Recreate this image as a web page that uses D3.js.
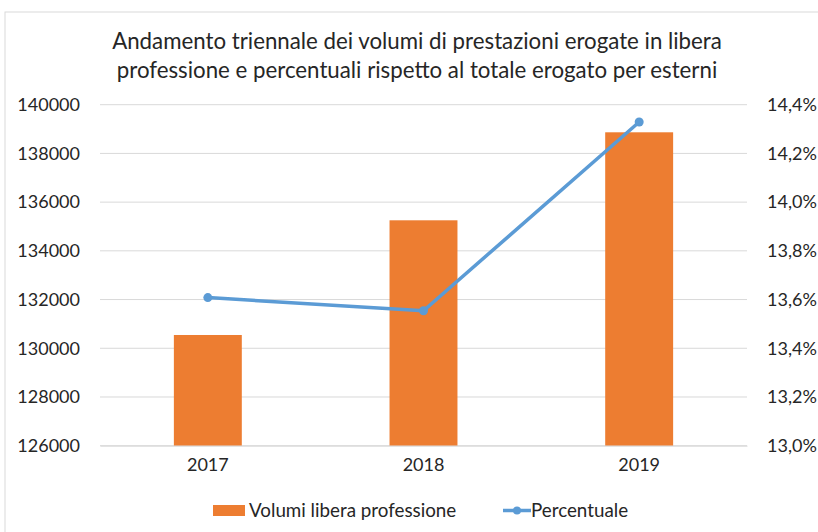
<!DOCTYPE html>
<html><head><meta charset="utf-8">
<script src="https://cdn.jsdelivr.net/npm/d3@7"></script>
<style>body{margin:0;background:#fff}svg{display:block}text{font-family:Lato,"Open Sans",sans-serif;fill:#262626}</style>
</head><body><svg id="c" width="818" height="532"></svg>
<script>
const categories = ["2017", "2018", "2019"];
const volumi = [130545, 135254, 138867];
const percentuale = [13.608, 13.554, 14.329];
const leftTicks = [126000, 128000, 130000, 132000, 134000, 136000, 138000, 140000];
const rightTicks = [13.0, 13.2, 13.4, 13.6, 13.8, 14.0, 14.2, 14.4];
const titleLines = ["Andamento triennale dei volumi di prestazioni erogate in libera",
  "professione e percentuali rispetto al totale erogato per esterni"];
const seriesNames = ["Volumi libera professione", "Percentuale"];

const svg = d3.select("#c");
const W = 818, H = 532;
const m = {l: 100, r: 71, t: 104.7, b: 86.3};
const x = d3.scaleBand().domain(categories).range([m.l, W - m.r]).paddingInner(0.685).paddingOuter(0.3425);
const y = d3.scaleLinear().domain([126000, 140000]).range([H - m.b, m.t]);
const y2 = d3.scaleLinear().domain([13.0, 14.4]).range([H - m.b, m.t]);
const tickFont = "18px";

// border
svg.append("rect").attr("x", 5).attr("y", 12).attr("width", 830).attr("height", 540)
  .attr("fill", "none").attr("stroke", "#D9D9D9").attr("stroke-width", 1);

// title
const tg = svg.append("g");
titleLines.forEach((t, i) => {
  tg.append("text").attr("x", 417).attr("y", 49 + i * 28.5).attr("text-anchor", "middle")
    .style("font-size", "19px").text(t);
});
const first = tg.select("text").node();
const fs = 19 * 610 / first.getComputedTextLength();
tg.selectAll("text").style("font-size", fs + "px");

// gridlines
svg.append("g").selectAll("line").data(leftTicks).join("line")
  .attr("x1", m.l).attr("x2", W - m.r).attr("y1", d => y(d)).attr("y2", d => y(d))
  .attr("stroke", "#D9D9D9").attr("stroke-width", 1);

// left axis
const la = svg.append("g").attr("transform", `translate(${m.l},0)`)
  .call(d3.axisLeft(y).tickValues(leftTicks).tickFormat(d3.format("d")).tickSize(0).tickPadding(20));
la.select(".domain").remove();
la.selectAll("text").style("font-size", tickFont).style("font-family", "Lato,'Open Sans',sans-serif").attr("fill", "#262626");

// right axis
const fmtPct = d => d.toFixed(1).replace(".", ",") + "%";
const ra = svg.append("g").attr("transform", `translate(${W - m.r},0)`)
  .call(d3.axisRight(y2).tickValues(rightTicks).tickFormat(fmtPct).tickSize(0).tickPadding(20));
ra.select(".domain").remove();
ra.selectAll("text").style("font-size", tickFont).style("font-family", "Lato,'Open Sans',sans-serif").attr("fill", "#262626");

// bars
svg.append("g").selectAll("rect").data(volumi).join("rect")
  .attr("x", (d, i) => x(categories[i])).attr("width", x.bandwidth())
  .attr("y", d => y(d)).attr("height", d => y(126000) - y(d)).attr("fill", "#ED7D31");

// x axis
const xa = svg.append("g").attr("transform", `translate(0,${H - m.b})`)
  .call(d3.axisBottom(x).tickSize(0).tickPadding(13));
xa.select(".domain").attr("stroke", "#D9D9D9");
xa.selectAll("text").style("font-size", tickFont).style("font-family", "Lato,'Open Sans',sans-serif").attr("fill", "#262626");

// line
const line = d3.line().x((d, i) => x(categories[i]) + x.bandwidth() / 2).y(d => y2(d));
svg.append("path").datum(percentuale).attr("d", line).attr("fill", "none")
  .attr("stroke", "#5B9BD5").attr("stroke-width", 3.5).attr("stroke-linejoin", "round").attr("stroke-linecap", "round");
svg.append("g").selectAll("circle").data(percentuale).join("circle")
  .attr("cx", (d, i) => x(categories[i]) + x.bandwidth() / 2).attr("cy", d => y2(d)).attr("r", 4.5).attr("fill", "#5B9BD5");

// legend
const lg = svg.append("g");
lg.append("rect").attr("x", 213).attr("y", 505).attr("width", 32).attr("height", 11).attr("fill", "#ED7D31");
lg.append("text").attr("x", 249).attr("y", 517).style("font-size", "18.8px").text(seriesNames[0]);
lg.append("line").attr("x1", 503).attr("x2", 531).attr("y1", 510.5).attr("y2", 510.5).attr("stroke", "#5B9BD5").attr("stroke-width", 3.5);
lg.append("circle").attr("cx", 517).attr("cy", 510.5).attr("r", 4).attr("fill", "#5B9BD5");
lg.append("text").attr("x", 531).attr("y", 517).style("font-size", "18.8px").text(seriesNames[1]);
</script></body></html>
